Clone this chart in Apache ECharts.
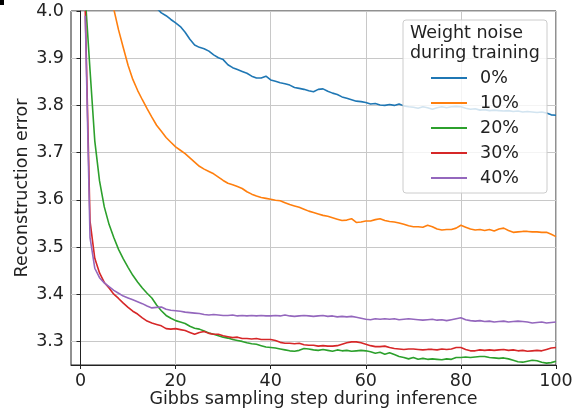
<!DOCTYPE html>
<html>
<head>
<meta charset="utf-8">
<script src="https://cdn.jsdelivr.net/npm/echarts@6/dist/echarts.min.js"></script>
<style>
  html, body { margin: 0; padding: 0; background: #fff; }
  #chart { width: 576px; height: 413px; }
</style>
</head>
<body>
<div id="chart"></div>
<script>
// Gibbs sampling steps
const steps = [
  1, 2, 3, 4, 5, 6, 7, 8, 9, 10, 11, 12, 13, 14, 15, 16, 17, 18, 19, 20,
  21, 22, 23, 24, 25, 26, 27, 28, 29, 30, 31, 32, 33, 34, 35, 36, 37, 38, 39, 40,
  41, 42, 43, 44, 45, 46, 47, 48, 49, 50, 51, 52, 53, 54, 55, 56, 57, 58, 59, 60,
  61, 62, 63, 64, 65, 66, 67, 68, 69, 70, 71, 72, 73, 74, 75, 76, 77, 78, 79, 80,
  81, 82, 83, 84, 85, 86, 87, 88, 89, 90, 91, 92, 93, 94, 95, 96, 97, 98, 99, 100
]

const noise0 = [
  4.85, 4.58, 4.42, 4.32, 4.25, 4.2, 4.16, 4.13, 4.1, 4.083, 4.065, 4.05, 4.037, 4.025, 4.015, 4.006, 3.996, 3.99, 3.982, 3.975,
  3.967, 3.955, 3.94, 3.928, 3.923, 3.92, 3.915, 3.907, 3.901, 3.897, 3.886, 3.88, 3.876, 3.872, 3.868, 3.862, 3.858, 3.858, 3.862, 3.854,
  3.851, 3.848, 3.846, 3.843, 3.838, 3.836, 3.834, 3.831, 3.829, 3.834, 3.835, 3.83, 3.826, 3.823, 3.818, 3.815, 3.812, 3.809, 3.808, 3.806,
  3.803, 3.804, 3.801, 3.8, 3.802, 3.8, 3.803, 3.799, 3.797, 3.796, 3.794, 3.797, 3.795, 3.792, 3.795, 3.797, 3.795, 3.797, 3.798, 3.797,
  3.794, 3.792, 3.793, 3.79, 3.791, 3.789, 3.79, 3.789, 3.788, 3.789, 3.787, 3.788, 3.786, 3.787, 3.786, 3.785, 3.786, 3.784, 3.78, 3.779
]

const noise10 = [
  5.2, 4.8, 4.5, 4.3, 4.17, 4.08, 4.004, 3.96, 3.922, 3.885, 3.855, 3.832, 3.812, 3.793, 3.775, 3.758, 3.745, 3.732, 3.722, 3.712,
  3.705, 3.698, 3.689, 3.68, 3.671, 3.665, 3.66, 3.655, 3.648, 3.641, 3.635, 3.632, 3.628, 3.624, 3.617, 3.612, 3.608, 3.605, 3.603, 3.601,
  3.599, 3.598, 3.594, 3.59, 3.587, 3.584, 3.58, 3.576, 3.573, 3.57, 3.567, 3.565, 3.562, 3.559, 3.556, 3.557, 3.56, 3.552, 3.553, 3.555,
  3.555, 3.558, 3.56, 3.556, 3.554, 3.553, 3.551, 3.548, 3.545, 3.543, 3.543, 3.542, 3.546, 3.543, 3.538, 3.536, 3.537, 3.537, 3.54, 3.546,
  3.542, 3.538, 3.536, 3.537, 3.535, 3.537, 3.534, 3.538, 3.54, 3.535, 3.531, 3.532, 3.533, 3.533, 3.532, 3.532, 3.531, 3.531, 3.527, 3.522
]

const noise20 = [
  4.03, 3.875, 3.725, 3.64, 3.585, 3.548, 3.52, 3.495, 3.475, 3.457, 3.44, 3.426, 3.413, 3.402, 3.392, 3.377, 3.365, 3.355, 3.349, 3.344,
  3.341, 3.338, 3.332, 3.328, 3.326, 3.322, 3.318, 3.315, 3.312, 3.309, 3.307, 3.304, 3.302, 3.3, 3.297, 3.295, 3.294, 3.291, 3.288, 3.287,
  3.286, 3.284, 3.282, 3.28, 3.279, 3.281, 3.285, 3.284, 3.282, 3.281, 3.283, 3.281, 3.279, 3.282, 3.28, 3.281, 3.279, 3.28, 3.281, 3.28,
  3.278, 3.275, 3.277, 3.273, 3.276, 3.272, 3.268, 3.266, 3.263, 3.266, 3.262, 3.264, 3.262, 3.263, 3.262, 3.261, 3.263, 3.262, 3.266, 3.266,
  3.267, 3.266, 3.267, 3.268, 3.268, 3.266, 3.265, 3.264, 3.265, 3.263, 3.26, 3.257, 3.256, 3.258, 3.26, 3.259, 3.256, 3.254, 3.255, 3.258
]

const noise30 = [
  4.0, 3.555, 3.476, 3.445, 3.425, 3.413, 3.4, 3.391, 3.381, 3.372, 3.364, 3.358, 3.35, 3.343, 3.339, 3.336, 3.333, 3.327, 3.326, 3.327,
  3.325, 3.323, 3.319, 3.315, 3.319, 3.321, 3.317, 3.315, 3.315, 3.312, 3.31, 3.308, 3.309, 3.306, 3.306, 3.305, 3.306, 3.304, 3.304, 3.304,
  3.302, 3.298, 3.296, 3.296, 3.295, 3.296, 3.293, 3.292, 3.292, 3.29, 3.291, 3.29, 3.29, 3.291, 3.294, 3.297, 3.299, 3.299, 3.297, 3.294,
  3.291, 3.289, 3.289, 3.29, 3.287, 3.285, 3.284, 3.283, 3.284, 3.284, 3.283, 3.282, 3.283, 3.283, 3.282, 3.284, 3.283, 3.284, 3.287, 3.287,
  3.283, 3.28, 3.28, 3.282, 3.281, 3.282, 3.281, 3.282, 3.283, 3.281, 3.282, 3.28, 3.281, 3.279, 3.28, 3.281, 3.28, 3.283, 3.286, 3.287
]

const noise40 = [
  3.99, 3.52, 3.455, 3.435, 3.424, 3.416, 3.408, 3.402, 3.396, 3.392, 3.388, 3.384, 3.38, 3.375, 3.371, 3.372, 3.373, 3.368, 3.366, 3.365,
  3.364, 3.362, 3.361, 3.36, 3.359, 3.357, 3.356, 3.357, 3.356, 3.355, 3.355, 3.356, 3.354, 3.355, 3.354, 3.355, 3.354, 3.355, 3.354, 3.354,
  3.355, 3.354, 3.356, 3.354, 3.353, 3.354, 3.355, 3.354, 3.353, 3.354, 3.355, 3.353, 3.354, 3.352, 3.353, 3.352, 3.353, 3.351, 3.349, 3.347,
  3.346, 3.348, 3.347, 3.348, 3.347, 3.348, 3.346, 3.347, 3.348, 3.347, 3.346, 3.345, 3.346, 3.347, 3.345, 3.346, 3.344, 3.346, 3.348, 3.35,
  3.346, 3.344, 3.343, 3.344, 3.342, 3.343, 3.341, 3.342, 3.343, 3.341, 3.342, 3.343, 3.342, 3.341, 3.339, 3.34, 3.341, 3.339, 3.34, 3.341
]

const seriesNames = ['0%', '10%', '20%', '30%', '40%']
const seriesValues = [noise0, noise10, noise20, noise30, noise40]
const seriesColors = ['#1f77b4', '#ff7f0e', '#2ca02c', '#d62728', '#9467bd']

const xTicks = [0, 20, 40, 60, 80, 100]
const yTicks = [3.3, 3.4, 3.5, 3.6, 3.7, 3.8, 3.9, 4.0]

const font = 'DejaVu Sans'
const ink = '#222222'
const fs = 17.5

const chart = echarts.init(document.getElementById('chart'), null, { renderer: 'canvas' })

chart.setOption({
  animation: false,
  textStyle: { fontFamily: font },
  grid: {
    left: 71,
    right: 20,
    top: 11,
    bottom: 48,
    show: true,
    borderColor: ink,
    borderWidth: 1,
    backgroundColor: 'transparent'
  },
  xAxis: {
    type: 'value',
    min: -2,
    max: 100,
    name: 'Gibbs sampling step during inference',
    nameLocation: 'middle',
    nameGap: 25,
    nameMoveOverlap: false,
    nameTextStyle: { fontSize: fs, color: ink, fontFamily: font },
    axisLine: { lineStyle: { color: ink, width: 1 } },
    axisTick: { show: true, length: 4, customValues: xTicks, lineStyle: { color: ink } },
    axisLabel: { customValues: xTicks, fontSize: fs, color: ink, margin: 7, fontFamily: font },
    splitLine: { show: true, lineStyle: { color: '#c8c8c8', width: 1 } }
  },
  yAxis: {
    type: 'value',
    min: 3.25,
    max: 4.0,
    name: 'Reconstruction error',
    nameLocation: 'middle',
    nameGap: 40,
    nameMoveOverlap: false,
    nameTextStyle: { fontSize: fs, color: ink, fontFamily: font },
    axisLine: { show: true, lineStyle: { color: ink, width: 1 } },
    axisTick: { show: true, length: 4, customValues: yTicks, lineStyle: { color: ink } },
    axisLabel: {
      customValues: yTicks,
      fontSize: fs,
      color: ink,
      margin: 7,
      fontFamily: font,
      formatter: v => v.toFixed(1)
    },
    splitLine: { show: true, lineStyle: { color: '#c8c8c8', width: 1 } }
  },
  legend: {
    orient: 'vertical',
    left: 430,
    top: 69,
    padding: 0,
    itemWidth: 36,
    itemHeight: 14,
    itemGap: 7,
    z: 20,
    data: seriesNames,
    itemStyle: { opacity: 0 },
    textStyle: { fontSize: fs, color: ink, fontFamily: font, padding: [0, 0, 0, 8] }
  },
  graphic: [
    {
      type: 'rect',
      z: 10,
      shape: { x: 403, y: 20, width: 144, height: 173, r: 3 },
      style: { fill: 'rgba(255,255,255,0.8)', stroke: '#cccccc', lineWidth: 1 }
    },
    {
      type: 'text',
      z: 20,
      left: 410,
      top: 23,
      style: {
        text: 'Weight noise\nduring training',
        fontSize: fs,
        lineHeight: 20,
        fontFamily: font,
        fill: ink
      }
    },
    {
      type: 'rect',
      z: 20,
      shape: { x: 0, y: 0, width: 4, height: 5 },
      style: { fill: '#000' }
    }
  ],
  series: seriesNames.map((name, i) => ({
    name: name,
    type: 'line',
    symbol: 'none',
    clip: true,
    z: 2,
    color: seriesColors[i],
    lineStyle: { width: 1.6, color: seriesColors[i] },
    data: steps.map((s, j) => [s, seriesValues[i][j]])
  }))
})
</script>
</body>
</html>
